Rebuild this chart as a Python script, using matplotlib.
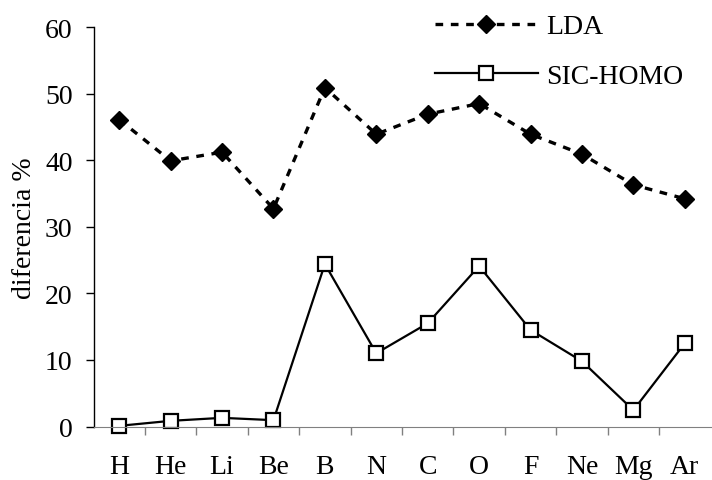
import numpy as np
import matplotlib
matplotlib.use("Agg")
import matplotlib.pyplot as plt

plt.rcParams['font.family'] = ['Liberation Serif', 'DejaVu Serif']

# elementos y diferencias porcentuales
elementos = ["H", "He", "Li", "Be", "B", "N", "C", "O", "F", "Ne", "Mg", "Ar"]
lda = [46.1, 39.9, 41.2, 32.7, 50.9, 43.9, 46.9, 48.5, 43.9, 40.9, 36.3, 34.2]
sic_homo = [0.1, 0.85, 1.3, 0.95, 24.4, 11.0, 15.5, 24.1, 14.5, 9.8, 2.45, 12.5]

W, H = 712, 481
fs = 20
fig = plt.figure(figsize=(W / 100, H / 100), dpi=100)
ax = fig.add_axes([93.5 / W, 1 - 427.5 / H, 617 / W, 399.5 / H])

x = np.arange(len(elementos))
ax.plot(x, lda, color="black", linestyle=(0, (2.3, 2.3)), linewidth=2.4,
        marker="D", markersize=9.5, markerfacecolor="black", markeredgecolor="black",
        label="LDA")
ax.plot(x, sic_homo, color="black", linestyle="-", linewidth=1.6,
        marker="s", markersize=9.5, markerfacecolor="white", markeredgecolor="black",
        markeredgewidth=1.6, label="SIC-HOMO")

ax.set_xlim(-0.5, len(elementos) - 0.5)
ax.set_ylim(0, 60)
ax.set_yticks(range(0, 61, 10))
ax.set_xticks(x)
ax.set_xticklabels(elementos)
ax.set_xticks(np.arange(0.5, len(elementos) - 0.5, 1), minor=True)
ax.tick_params(axis="x", which="major", length=0, pad=20, labelsize=fs)
ax.tick_params(axis="x", which="minor", length=6, width=1, color="#808080", direction="out")
ax.tick_params(axis="y", length=6, width=1, direction="out", labelsize=fs, pad=9)

ax.spines["top"].set_visible(False)
ax.spines["right"].set_visible(False)
ax.spines["bottom"].set_color("#808080")
ax.spines["left"].set_linewidth(1.0)
for ln in ax.lines:
    ln.set_clip_on(False)

ax.set_ylabel("diferencia %", fontsize=fs, labelpad=6)

ax.legend(loc="upper left", bbox_to_anchor=(435 / W, 1 - 15 / H), bbox_transform=fig.transFigure,
          frameon=False, fontsize=fs, handlelength=3.7, handletextpad=0.3,
          labelspacing=0.85, borderpad=0, borderaxespad=0)

fig.savefig("out.png", dpi=100)
